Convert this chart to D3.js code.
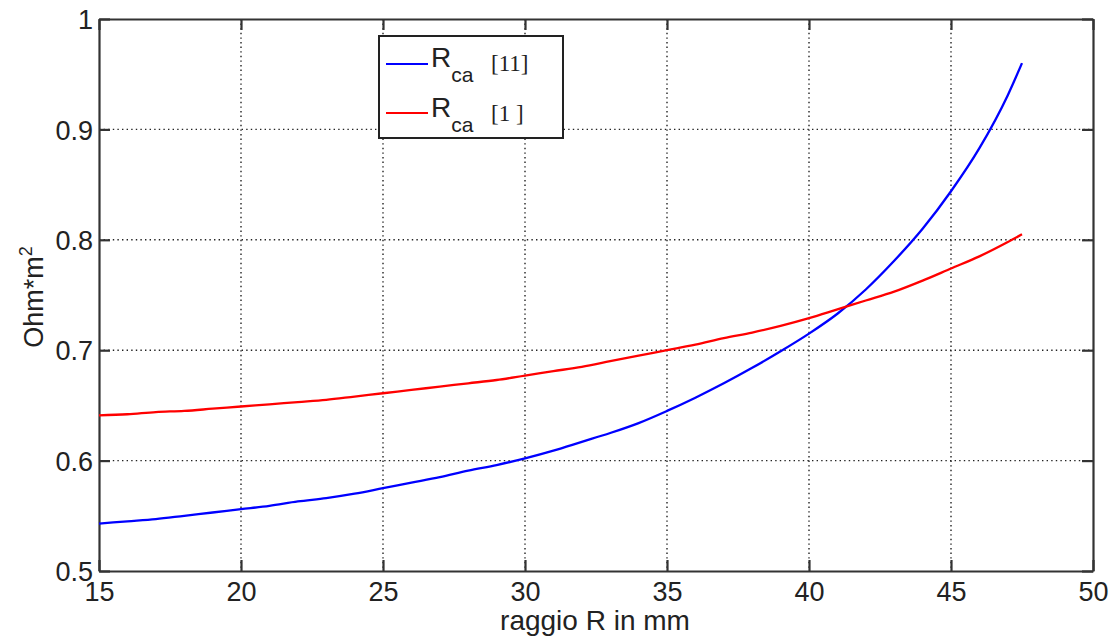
<!DOCTYPE html>
<html><head><meta charset="utf-8">
<script src="https://cdn.jsdelivr.net/npm/d3@7"></script>
<style>body{margin:0;background:#fff}</style>
</head><body>
<svg id="c" width="1117" height="644"></svg>
<script>
const radius = [15,16,17,18,19,20,21,22,23,24,25,26,27,28,29,30,31,32,33,34,35,36,37,38,39,40,41,42,43,44,45,46,47,47.5];
const rca11 = [0.543,0.545,0.547,0.550,0.553,0.556,0.559,0.563,0.566,0.570,0.575,0.580,0.585,0.591,0.596,0.602,0.609,0.617,0.625,0.634,0.645,0.657,0.670,0.684,0.699,0.715,0.733,0.755,0.781,0.810,0.844,0.883,0.931,0.960];
const rca1 = [0.641,0.642,0.644,0.645,0.647,0.649,0.651,0.653,0.655,0.658,0.661,0.664,0.667,0.670,0.673,0.677,0.681,0.685,0.690,0.695,0.700,0.705,0.711,0.716,0.722,0.729,0.737,0.745,0.753,0.763,0.774,0.785,0.798,0.805];
const xTicks = [15,20,25,30,35,40,45,50];
const yTicks = [0.5,0.6,0.7,0.8,0.9,1];
const xTickLabels = ["15","20","25","30","35","40","45","50"];
const yTickLabels = ["0.5","0.6","0.7","0.8","0.9","1"];

const svg = d3.select("#c");
const L=99, R=1093, T=19, B=571;
const x = d3.scaleLinear().domain([15,50]).range([L,R]);
const y = d3.scaleLinear().domain([0.5,1]).range([B,T]);
const font = "'Liberation Sans', Arial, sans-serif";
const fs = 27;

// grid
const g = svg.append("g");
g.selectAll(".gx").data(xTicks.slice(1,-1)).join("line")
  .attr("x1",d=>x(d)).attr("x2",d=>x(d)).attr("y1",T).attr("y2",B)
  .attr("stroke","#222").attr("stroke-width",1.4).attr("stroke-dasharray","1.4,3.2");
g.selectAll(".gy").data(yTicks.slice(1,-1)).join("line")
  .attr("y1",d=>y(d)).attr("y2",d=>y(d)).attr("x1",L).attr("x2",R)
  .attr("stroke","#222").attr("stroke-width",1.4).attr("stroke-dasharray","1.4,3.2");

// axes with inward ticks
const tl = 11;
const axB = svg.append("g").attr("transform",`translate(0,${B})`)
  .call(d3.axisBottom(x).tickValues(xTicks).tickSizeInner(-tl).tickSizeOuter(0).tickPadding(11).tickFormat((d,i)=>xTickLabels[i]));
const axT = svg.append("g").attr("transform",`translate(0,${T})`)
  .call(d3.axisTop(x).tickValues(xTicks).tickSizeInner(-tl).tickSizeOuter(0).tickFormat(""));
const axL = svg.append("g").attr("transform",`translate(${L},0)`)
  .call(d3.axisLeft(y).tickValues(yTicks).tickSizeInner(-tl).tickSizeOuter(0).tickPadding(6).tickFormat((d,i)=>yTickLabels[i]));
const axR = svg.append("g").attr("transform",`translate(${R},0)`)
  .call(d3.axisRight(y).tickValues(yTicks).tickSizeInner(-tl).tickSizeOuter(0).tickFormat(""));
[axB,axT,axL,axR].forEach(a=>{
  a.selectAll("path").attr("stroke","#333").attr("stroke-width",2.2);
  a.selectAll("line").attr("stroke","#333").attr("stroke-width",2.2);
  a.selectAll("text").attr("font-family",font).attr("font-size",fs).attr("fill","#222");
});
axB.selectAll("text").attr("dy","0.71em");
axL.selectAll("text").attr("dy","0.36em");

// curves
const line = d3.line().x((d,i)=>x(radius[i])).y(d=>y(d)).curve(d3.curveMonotoneX);
svg.append("path").datum(rca11).attr("d",line).attr("fill","none").attr("stroke","#0000ff").attr("stroke-width",2.3);
svg.append("path").datum(rca1).attr("d",line).attr("fill","none").attr("stroke","#ff0000").attr("stroke-width",2.3);

// axis labels
svg.append("text").attr("x",595).attr("y",630).attr("text-anchor","middle")
  .attr("font-family",font).attr("font-size",28).attr("fill","#222").text("raggio R in mm");
const yl = svg.append("text").attr("transform","translate(43,297) rotate(-90)").attr("text-anchor","middle")
  .attr("font-family",font).attr("font-size",fs).attr("fill","#222");
yl.append("tspan").text("Ohm*m");
yl.append("tspan").attr("font-size",18).attr("dy",-11).text("2");

// legend
const lg = svg.append("g");
lg.append("rect").attr("x",379).attr("y",36).attr("width",184).attr("height",102)
  .attr("fill","#fff").attr("stroke","#222").attr("stroke-width",2);
const items = [{c:"#0000ff",ref:"[11]",yy:64,base:67},{c:"#ff0000",ref:"[1 ]",yy:113,base:117}];
items.forEach(it=>{
  lg.append("line").attr("x1",386).attr("x2",428).attr("y1",it.yy).attr("y2",it.yy).attr("stroke",it.c).attr("stroke-width",1.8);
  const t = lg.append("text").attr("x",431).attr("y",it.base).attr("font-family",font).attr("font-size",28).attr("fill","#222");
  t.append("tspan").text("R");
  t.append("tspan").attr("font-size",21).attr("dy",15).text("ca");
  lg.append("text").attr("x",491).attr("y",it.base+4).attr("font-family","'Liberation Serif', 'Times New Roman', serif")
    .attr("font-size",23).attr("fill","#222").attr("xml:space","preserve").text(it.ref);
});
</script>
</body></html>
